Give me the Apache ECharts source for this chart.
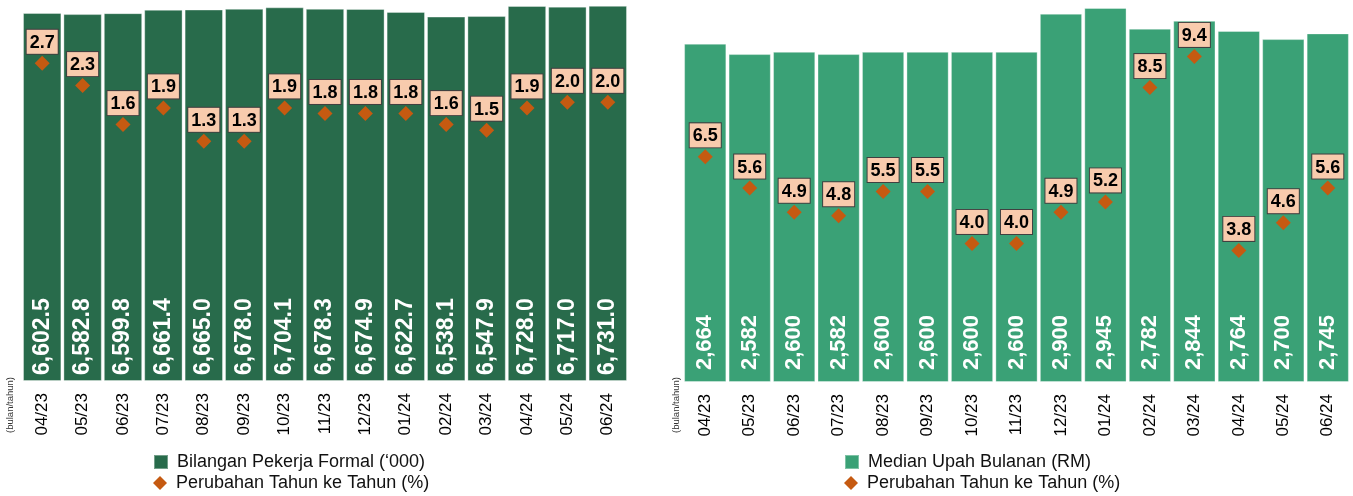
<!DOCTYPE html>
<html>
<head>
<meta charset="utf-8">
<script src="https://cdn.jsdelivr.net/npm/echarts@6/dist/echarts.min.js"></script>
<style>
html,body{margin:0;padding:0;background:#fff;}
#chart{width:1353px;height:496px;}
</style>
</head>
<body>
<div id="chart"></div>
<script>
const months = ['04/23','05/23','06/23','07/23','08/23','09/23','10/23','11/23','12/23','01/24','02/24','03/24','04/24','05/24','06/24'];
const workers = [6602.5,6582.8,6599.8,6661.4,6665.0,6678.0,6704.1,6678.3,6674.9,6622.7,6538.1,6547.9,6728.0,6717.0,6731.0];
const workersYoY = [2.7,2.3,1.6,1.9,1.3,1.3,1.9,1.8,1.8,1.8,1.6,1.5,1.9,2.0,2.0];
const wages = [2664,2582,2600,2582,2600,2600,2600,2600,2900,2945,2782,2844,2764,2700,2745];
const wagesYoY = [6.5,5.6,4.9,4.8,5.5,5.5,4.0,4.0,4.9,5.2,8.5,9.4,3.8,4.6,5.6];

const FONT = '"Liberation Sans", Arial, sans-serif';
const C_DARK = '#286b4b';
const C_LIGHT = '#3aa176';
const C_DIAMOND = '#c55a11';

function fmt(v, d) {
  return v.toLocaleString('en-US', {minimumFractionDigits: d, maximumFractionDigits: d});
}

const yoyLabel = {
  show: true,
  position: 'top',
  distance: 2,
  formatter: p => p.value.toFixed(1),
  fontFamily: FONT,
  fontSize: 18,
  fontWeight: 'bold',
  color: '#000',
  backgroundColor: '#f8cbad',
  borderColor: '#404040',
  borderWidth: 1,
  padding: [4, 3, 2, 3]
};

const xAxisCommon = {
  type: 'category',
  axisLine: {show: false},
  axisTick: {show: false},
  axisLabel: {rotate: 90, fontSize: 17, color: '#000', fontFamily: FONT, margin: 12, interval: 0}
};

function legendItem(name, icon, color, left, top) {
  return {
    left: left, top: top,
    itemWidth: 14, itemHeight: 14,
    textStyle: {fontFamily: FONT, fontSize: 18, color: '#111', padding: [0, 0, 0, 4]},
    selectedMode: false,
    data: [{name: name, icon: icon, itemStyle: {color: color}}]
  };
}

const chart = echarts.init(document.getElementById('chart'), null, {renderer: 'canvas'});
chart.setOption({
  animation: false,
  backgroundColor: '#fff',
  grid: [
    {left: 22, right: 725, top: 2, bottom: 115},
    {left: 683, right: 3, top: 1, bottom: 114}
  ],
  xAxis: [
    Object.assign({gridIndex: 0, data: months}, xAxisCommon),
    Object.assign({gridIndex: 1, data: months}, xAxisCommon)
  ],
  yAxis: [
    {gridIndex: 0, type: 'value', min: 0, max: 6800, show: false},
    {gridIndex: 0, type: 'value', min: -3, max: 3.8, show: false},
    {gridIndex: 1, type: 'value', min: 0, max: 3000, show: false},
    {gridIndex: 1, type: 'value', min: 0, max: 11, show: false}
  ],
  legend: [
    legendItem('Bilangan Pekerja Formal (‘000)', 'rect', C_DARK, 148, 448),
    legendItem('Perubahan Tahun ke Tahun (%)', 'diamond', C_DIAMOND, 148, 469),
    legendItem('Median Upah Bulanan (RM)', 'rect', C_LIGHT, 839, 448),
    legendItem('Perubahan Tahun ke Tahun (%)', 'diamond', C_DIAMOND, 839, 469)
  ],
  graphic: [
    {type: 'text', x: 10, y: 405, rotation: Math.PI / 2,
     style: {text: '(bulan/tahun)', fontSize: 9.5, fill: '#333', fontFamily: FONT, align: 'center', verticalAlign: 'middle'}},
    {type: 'text', x: 676, y: 405, rotation: Math.PI / 2,
     style: {text: '(bulan/tahun)', fontSize: 9.5, fill: '#333', fontFamily: FONT, align: 'center', verticalAlign: 'middle'}}
  ],
  series: [
    {
      name: 'Bilangan Pekerja Formal (‘000)', type: 'bar', xAxisIndex: 0, yAxisIndex: 0,
      data: workers, barCategoryGap: '5%',
      itemStyle: {color: C_DARK, borderColor: 'rgba(255,255,255,0.35)', borderWidth: 1},
      label: {show: true, position: 'insideBottom', rotate: 90, align: 'left', verticalAlign: 'middle',
        distance: 6, formatter: p => fmt(p.value, 1), color: '#fff', fontSize: 23, fontWeight: 'bold', fontFamily: FONT}
    },
    {
      name: 'Perubahan Tahun ke Tahun (%)', type: 'line', xAxisIndex: 0, yAxisIndex: 1,
      data: workersYoY, symbol: 'diamond', symbolSize: 15,
      lineStyle: {width: 0, opacity: 0}, itemStyle: {color: C_DIAMOND},
      label: yoyLabel, z: 5
    },
    {
      name: 'Median Upah Bulanan (RM)', type: 'bar', xAxisIndex: 1, yAxisIndex: 2,
      data: wages, barCategoryGap: '5%',
      itemStyle: {color: C_LIGHT, borderColor: 'rgba(255,255,255,0.35)', borderWidth: 1},
      label: {show: true, position: 'insideBottom', rotate: 90, align: 'left', verticalAlign: 'middle',
        distance: 12, formatter: p => fmt(p.value, 0), color: '#fff', fontSize: 22, fontWeight: 'bold', fontFamily: FONT}
    },
    {
      name: 'Perubahan Tahun ke Tahun (%)', type: 'line', xAxisIndex: 1, yAxisIndex: 3,
      data: wagesYoY, symbol: 'diamond', symbolSize: 15,
      lineStyle: {width: 0, opacity: 0}, itemStyle: {color: C_DIAMOND},
      label: yoyLabel, z: 5
    }
  ]
});
</script>
</body>
</html>
